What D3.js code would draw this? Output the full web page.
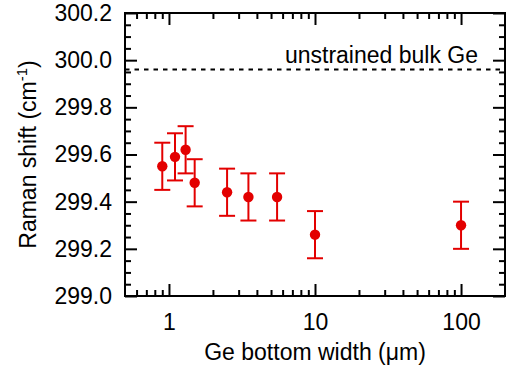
<!DOCTYPE html>
<html>
<head>
<meta charset="utf-8">
<script src="https://cdn.jsdelivr.net/npm/d3@7"></script>
<style>
  html, body { margin: 0; padding: 0; background: #fff; }
  svg { display: block; font-family: Arial, "Liberation Sans", Helvetica, sans-serif; }
</style>
</head>
<body>
<svg id="chart" width="514" height="368"></svg>
<script>
// Raman shift of Ge versus bottom width
const widths = [0.9, 1.1, 1.3, 1.5, 2.5, 3.5, 5.5, 10, 100];
const shifts = [299.55, 299.59, 299.62, 299.48, 299.44, 299.42, 299.42, 299.26, 299.30];
const errors = [0.1, 0.1, 0.1, 0.1, 0.1, 0.1, 0.1, 0.1, 0.1];
const bulkShift = 299.96;
const xMajorTicks = [1, 10, 100];
const xMinorTicks = [0.6, 0.7, 0.8, 0.9, 2, 3, 4, 5, 6, 7, 8, 9, 20, 30, 40, 50, 60, 70, 80, 90];
const yMajorTicks = [299.0, 299.2, 299.4, 299.6, 299.8, 300.0, 300.2];
const yMinorTicks = d3.range(0, 25).map(i => 299.0 + i * 0.05).filter(v => Math.abs((v - 299.0) / 0.2 - Math.round((v - 299.0) / 0.2)) > 1e-6);

const W = 514, H = 368;
const margin = { top: 13, right: 9, bottom: 72, left: 125 };
const iw = W - margin.left - margin.right;
const ih = H - margin.top - margin.bottom;
const red = "#e30000";
const fs = 23;

const svg = d3.select("#chart");
const g = svg.append("g").attr("transform", `translate(${margin.left},${margin.top})`);

const x = d3.scaleLog().domain([0.5, 200]).range([0, iw]);
const y = d3.scaleLinear().domain([299.0, 300.2]).range([ih, 0]);

const major = 12, minor = 6;

function styleAxis(sel) {
  sel.select(".domain").remove();
  sel.selectAll(".tick line").attr("stroke", "#000").attr("stroke-width", 2);
  sel.selectAll(".tick text").attr("font-size", fs).attr("fill", "#000").attr("font-family", "Arial, 'Liberation Sans', sans-serif");
}

// Bottom axis (labels) and mirrored ticks on all sides, pointing inward
g.append("g").attr("transform", `translate(0,${ih})`)
  .call(d3.axisBottom(x).tickValues(xMajorTicks).tickFormat(d3.format("d")).tickSizeInner(-major).tickSizeOuter(0).tickPadding(18))
  .call(styleAxis);
g.append("g").attr("transform", `translate(0,${ih})`)
  .call(d3.axisBottom(x).tickValues(xMinorTicks).tickFormat("").tickSizeInner(-minor).tickSizeOuter(0))
  .call(styleAxis);
g.append("g")
  .call(d3.axisTop(x).tickValues(xMajorTicks).tickFormat("").tickSizeInner(-major).tickSizeOuter(0))
  .call(styleAxis);
g.append("g")
  .call(d3.axisTop(x).tickValues(xMinorTicks).tickFormat("").tickSizeInner(-minor).tickSizeOuter(0))
  .call(styleAxis);

g.append("g")
  .call(d3.axisLeft(y).tickValues(yMajorTicks).tickFormat(d3.format(".1f")).tickSizeInner(-major).tickSizeOuter(0).tickPadding(13))
  .call(styleAxis);
g.append("g")
  .call(d3.axisLeft(y).tickValues(yMinorTicks).tickFormat("").tickSizeInner(-minor).tickSizeOuter(0))
  .call(styleAxis);
g.append("g").attr("transform", `translate(${iw},0)`)
  .call(d3.axisRight(y).tickValues(yMajorTicks).tickFormat("").tickSizeInner(-major).tickSizeOuter(0))
  .call(styleAxis);
g.append("g").attr("transform", `translate(${iw},0)`)
  .call(d3.axisRight(y).tickValues(yMinorTicks).tickFormat("").tickSizeInner(-minor).tickSizeOuter(0))
  .call(styleAxis);

// Frame
g.append("rect").attr("x", 0).attr("y", 0).attr("width", iw).attr("height", ih)
  .attr("fill", "none").attr("stroke", "#000").attr("stroke-width", 2);

// Unstrained bulk reference
g.append("line")
  .attr("x1", 0).attr("x2", iw)
  .attr("y1", y(bulkShift)).attr("y2", y(bulkShift))
  .attr("stroke", "#000").attr("stroke-width", 2).attr("stroke-dasharray", "4.5,5");
g.append("text")
  .attr("x", iw - 27).attr("y", y(bulkShift) - 6.5)
  .attr("text-anchor", "end").attr("font-size", fs).attr("fill", "#000")
  .text("unstrained bulk Ge");

// Error bars
const data = widths.map((w, i) => ({ w, s: shifts[i], e: errors[i] }));
const cap = 8;
const eb = g.append("g").attr("stroke", red).attr("stroke-width", 2);
eb.selectAll("line.v").data(data).join("line").attr("class", "v")
  .attr("x1", d => x(d.w)).attr("x2", d => x(d.w))
  .attr("y1", d => y(d.s - d.e)).attr("y2", d => y(d.s + d.e));
eb.selectAll("line.t").data(data).join("line").attr("class", "t")
  .attr("x1", d => x(d.w) - cap).attr("x2", d => x(d.w) + cap)
  .attr("y1", d => y(d.s + d.e)).attr("y2", d => y(d.s + d.e));
eb.selectAll("line.b").data(data).join("line").attr("class", "b")
  .attr("x1", d => x(d.w) - cap).attr("x2", d => x(d.w) + cap)
  .attr("y1", d => y(d.s - d.e)).attr("y2", d => y(d.s - d.e));

// Markers
g.append("g").selectAll("circle").data(data).join("circle")
  .attr("cx", d => x(d.w)).attr("cy", d => y(d.s)).attr("r", 5.2).attr("fill", red);

// Axis titles
svg.append("text")
  .attr("x", margin.left + iw / 2).attr("y", 360)
  .attr("text-anchor", "middle").attr("font-size", fs).attr("fill", "#000")
  .text("Ge bottom width (μm)");

const yt = svg.append("text")
  .attr("transform", `translate(36,${margin.top + ih / 2}) rotate(-90)`)
  .attr("text-anchor", "middle").attr("font-size", fs).attr("fill", "#000");
yt.append("tspan").text("Raman shift (cm");
yt.append("tspan").attr("font-size", 15).attr("dy", -9).text("-1");
yt.append("tspan").attr("dy", 9).text(")");
</script>
</body>
</html>
